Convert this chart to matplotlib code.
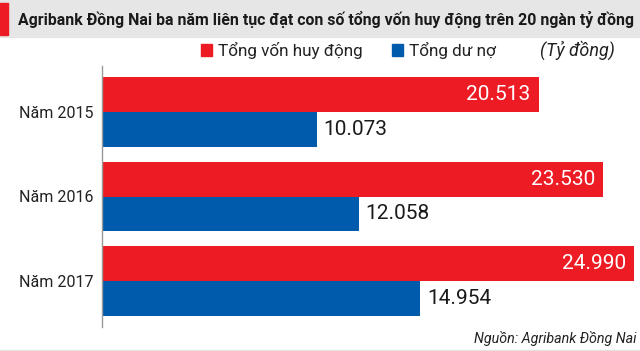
import numpy as np
import matplotlib
matplotlib.use("Agg")
import matplotlib.pyplot as plt
from matplotlib.patches import Rectangle

# data (ty dong)
years = ['Năm 2015', 'Năm 2016', 'Năm 2017']
von_huy_dong = [20513, 23530, 24990]
du_no = [10073, 12058, 14954]
labels_von = ['20.513', '23.530', '24.990']
labels_no = ['10.073', '12.058', '14.954']

RED = '#ED1C24'
BLUE = '#005BAC'
FONT = ['Roboto', 'DejaVu Sans']

plt.rcParams['font.family'] = FONT

fig = plt.figure(figsize=(6.4, 3.51), dpi=100)
W, H = 640.0, 351.0

# title band
fig.patches.append(Rectangle((0, 1 - 37 / H), 1, 37 / H, transform=fig.transFigure,
                             color='#E6E6E6', zorder=0))
fig.patches.append(Rectangle((0, 1 - 35 / H), 8 / W, 32 / H, transform=fig.transFigure,
                             color=RED, zorder=1))
fig.text(18 / W, 1 - 19 / H,
         'Agribank Đồng Nai ba năm liên tục đạt con số tổng vốn huy động trên 20 ngàn tỷ đồng',
         fontsize=11.4, fontweight='bold', color='#1a1a1a', va='center', ha='left')
# bottom line
fig.patches.append(Rectangle((0, 0), 1, 1.5 / H, transform=fig.transFigure,
                             color='#E3E3E3', zorder=0))

# legend
fig.patches.append(Rectangle((201 / W, 1 - 56 / H), 11 / W, 12 / H, transform=fig.transFigure,
                             color=RED))
fig.text(218 / W, 1 - 50 / H, 'Tổng vốn huy động', fontsize=12.3, color='#222222',
         va='center', ha='left')
fig.patches.append(Rectangle((392 / W, 1 - 56 / H), 11 / W, 12 / H, transform=fig.transFigure,
                             color=BLUE))
fig.text(409 / W, 1 - 50 / H, 'Tổng dư nợ', fontsize=12.3, color='#222222',
         va='center', ha='left')
fig.text(615 / W, 1 - 50 / H, '(Tỷ đồng)', fontsize=13, color='#222222', style='italic',
         va='center', ha='right')

# source
fig.text(636 / W, 1 - 339 / H, 'Nguồn: Agribank Đồng Nai', fontsize=10.3, color='#222222',
         style='italic', va='center', ha='right')

ax = fig.add_axes([102 / W, 1 - 327 / H, 538 / W, 261 / H])
y = np.arange(len(years))
h = 0.41
ax.barh(y - h / 2, von_huy_dong, height=h, color=RED, linewidth=0)
ax.barh(y + h / 2, du_no, height=h, color=BLUE, linewidth=0)

for i in range(len(years)):
    ax.annotate(labels_von[i], xy=(von_huy_dong[i], y[i] - h / 2), xytext=(-6, 0),
                textcoords='offset points', ha='right', va='center',
                color='white', fontsize=15)
    ax.annotate(labels_no[i], xy=(du_no[i], y[i] + h / 2), xytext=(5, 0),
                textcoords='offset points', ha='left', va='center',
                color='#1a1a1a', fontsize=15)

ax.set_xlim(0, 25260)
ax.set_ylim(2.544, -0.544)
ax.set_yticks(y)
ax.set_yticklabels(years, fontsize=11.5, color='#222222')
ax.tick_params(axis='y', length=0, pad=6)
ax.set_xticks([])
for s in ['top', 'right', 'bottom']:
    ax.spines[s].set_visible(False)
ax.spines['left'].set_color('#999999')
ax.spines['left'].set_linewidth(1)

fig.savefig('out.png', dpi=100)
